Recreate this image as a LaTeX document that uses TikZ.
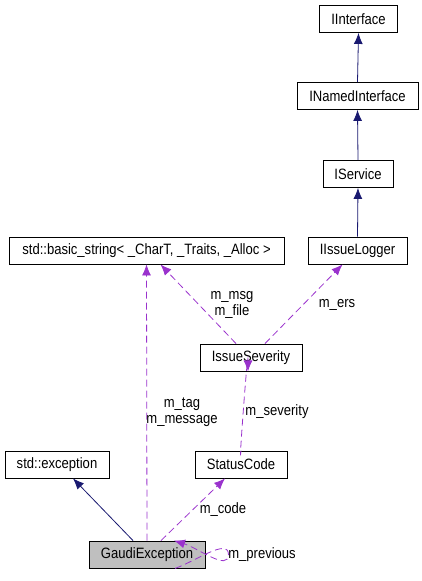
\documentclass[tikz,border=0pt]{standalone}
\usepackage{fontspec}
\setmainfont{Liberation Sans}[FakeStretch=0.87]
\usetikzlibrary{arrows.meta,calc}
\definecolor{navyedge}{HTML}{191970}
\definecolor{purpleedge}{HTML}{9A32CD}
\definecolor{focusfill}{HTML}{BFBFBF}
\begin{document}
\begin{tikzpicture}[x=1pt,y=-1pt,
  font=\fontsize{15}{17}\selectfont,
  box/.style={draw=black,line width=0.9pt,fill=white,inner sep=0pt,minimum height=27pt},
  focus/.style={box,fill=focusfill},
  inherit/.style={draw=navyedge,line width=0.8pt,-{Latex[length=11pt,width=9pt]}},
  usage/.style={draw=purpleedge,line width=0.8pt,dash pattern=on 7pt off 4pt,-{Latex[length=11pt,width=9pt]}},
  lbl/.style={inner sep=0pt,align=center,font=\fontsize{15}{16}\selectfont}]
\useasboundingbox (0,0) rectangle (422,581);
\node[box,minimum width=78pt] (ii) at (358.5,19) {IInterface};
\node[box,minimum width=121pt] (ini) at (357.5,96) {INamedInterface};
\node[box,minimum width=70pt] (isv) at (358,174) {IService};
\node[box,minimum width=99pt] (il) at (357.5,250.5) {IIssueLogger};
\node[box,minimum width=275pt] (bs) at (146.5,250.5) {std::basic\_string< \_CharT, \_Traits, \_Alloc >};
\node[box,minimum width=102pt] (is) at (251,357.5) {IssueSeverity};
\node[box,minimum width=92pt] (sc) at (241,464.5) {StatusCode};
\node[box,minimum width=104pt] (ex) at (57,464.5) {std::exception};
\node[focus,minimum width=116pt] (ge) at (147,554.5) {GaudiException};

\draw[inherit] (ini.north) -- (ii.south);
\draw[inherit] (isv.north) -- (ini.south);
\draw[inherit] (il.north) -- (isv.south);
\draw[inherit] ([xshift=-14pt]ge.north) -- ([xshift=16pt]ex.south);

\draw[usage] (ge.north) -- (bs.south);
\draw[usage] ([xshift=14pt]ge.north) -- ([xshift=-16pt]sc.south);
\draw[usage] (sc.north) .. controls ([xshift=-3pt,yshift=-30pt]sc.north) and ([xshift=-3pt,yshift=30pt]is.south) .. ([xshift=-3pt]is.south);
\draw[usage] ([xshift=-15pt]is.north) -- ([xshift=14pt]bs.south);
\draw[usage] ([xshift=14pt]is.north) -- ([xshift=-15pt]il.south);

\coordinate (la) at ([xshift=28pt]ge.south);
\coordinate (lb) at ($(ge.east)+(23pt,0)$);
\coordinate (lc) at ([xshift=27pt]ge.north);
\draw[usage] (la) .. controls ($(la)+(20pt,7pt)$) and ($(lb)+(0,17pt)$) .. (lb)
  .. controls ($(lb)+(0,-17pt)$) and ($(lc)+(25pt,-8pt)$) .. (lc);

\node[lbl] (t1) at (182,412) {m\_tag\\m\_message};
\node[lbl] (t2) at (232,304.5) {m\_msg\\m\_file};
\node[lbl] (t3) at (337,305) {m\_ers};
\node[lbl] (t4) at (277,412) {m\_severity};
\node[lbl] (t5) at (223,510) {m\_code};
\node[lbl] (t6) at (262,555) {m\_previous};
\end{tikzpicture}
\end{document}
